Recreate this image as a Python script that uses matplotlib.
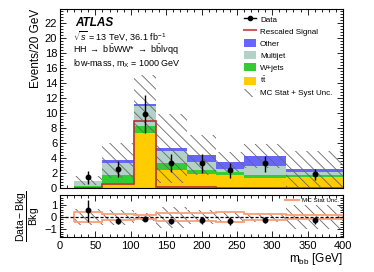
import numpy as np
import matplotlib
matplotlib.use("Agg")
import matplotlib.pyplot as plt
from matplotlib.ticker import MultipleLocator, AutoMinorLocator
from matplotlib.patches import Patch
from matplotlib.lines import Line2D

plt.rcParams['font.family'] = ['Liberation Sans', 'DejaVu Sans']
plt.rcParams['mathtext.fontset'] = 'custom'
plt.rcParams['mathtext.rm'] = 'Liberation Sans'
plt.rcParams['mathtext.it'] = 'Liberation Sans:italic'
plt.rcParams['mathtext.bf'] = 'Liberation Sans:bold'
plt.rcParams['hatch.linewidth'] = 0.6

# ---------------- data ----------------
edges = [20, 60, 105, 135, 180, 220, 260, 320, 400]
data = [1.5, 2.6, 9.9, 3.4, 3.4, 2.4, 3.3, 1.85]
data_err_up = [0.8, 1.0, 2.5, 1.2, 1.2, 1.0, 1.0, 0.75]
data_err_dn = [0.9, 1.15, 2.6, 1.2, 1.4, 1.1, 1.15, 0.75]
ttbar = [0.05, 0.67, 7.3, 2.4, 1.9, 1.8, 1.4, 1.5]
wjets = [0.25, 1.03, 1.0, 1.0, 0.5, 0.3, 0.3, 0.2]
multijet = [0.57, 1.6, 2.6, 1.6, 1.1, 0.5, 1.3, 0.45]
other = [0.08, 0.4, 0.35, 0.3, 0.9, 0.85, 1.3, 0.35]
signal = [0.05, 0.55, 9.0, 0.15, 0.1, 0.05, 0.05, 0.05]
syst_unc = [0.6, 2.3, 3.85, 4.6, 2.7, 1.35, 1.6, 2.5]
mcstat_rel = [0.4, 0.22, 0.2, 0.33, 0.35, 0.4, 0.22, 0.2]

labels = ['Other', 'Multijet', 'W+jets', r't$\bar{\mathrm{t}}$']
colors = {'ttbar': '#ffcc00', 'wjets': '#33cc33', 'multijet': '#b3d1c9', 'other': '#6666ff'}
sig_color = '#b8312a'
hatch_col = '#666666'
hatch = '\\\\\\'

edges_a = np.array(edges, float)
centers = 0.5 * (edges_a[:-1] + edges_a[1:])
comps = [np.array(ttbar), np.array(wjets), np.array(multijet), np.array(other)]
comp_cols = [colors['ttbar'], colors['wjets'], colors['multijet'], colors['other']]
total = np.sum(comps, axis=0)
unc = np.array(syst_unc)

# ---------------- figure ----------------
W, H = 374, 272
fig = plt.figure(figsize=(W / 100, H / 100), dpi=100)
ax = fig.add_axes([60 / W, 1 - 188 / H, 283 / W, 179 / H])
rx = fig.add_axes([60 / W, 1 - 237 / H, 283 / W, 41.7 / H])

# stack
base = np.zeros(len(total))
for v, c in zip(comps, comp_cols):
    ax.stairs(base + v, edges_a, baseline=base.copy(), fill=True, color=c, linewidth=0, zorder=2)
    base = base + v

# signal
ax.stairs(signal, edges_a, color=sig_color, linewidth=1.2, zorder=3)

# uncertainty hatch
ax.stairs(total + unc, edges_a, baseline=np.clip(total - unc, 0, None), fill=True,
          facecolor='none', edgecolor=hatch_col, linewidth=0, hatch=hatch, zorder=4)

# data
ax.errorbar(centers, data, yerr=[data_err_dn, data_err_up], fmt='o', color='black',
            markersize=3.2, elinewidth=1.0, capsize=0, zorder=5)

ax.set_xlim(0, 400)
ax.set_ylim(0, 23.9)
ax.yaxis.set_major_locator(MultipleLocator(2))
ax.yaxis.set_minor_locator(AutoMinorLocator(5))
ax.xaxis.set_major_locator(MultipleLocator(50))
ax.xaxis.set_minor_locator(AutoMinorLocator(5))
ax.tick_params(axis='both', which='both', direction='in', top=True, right=True, width=0.6,
               labelsize=8, pad=2)
ax.tick_params(which='major', length=4)
ax.tick_params(which='minor', length=2)
ax.tick_params(axis='x', labelbottom=False)
ax.set_ylabel('Events/20 GeV', fontsize=8.5, loc='top', labelpad=2)
for s in ax.spines.values():
    s.set_linewidth(0.8)

# texts
ax.text((75 - 60) / 283, (188 - 22.7) / 179, 'ATLAS', transform=ax.transAxes,
        fontsize=8.5, fontweight='bold', fontstyle='italic', va='center', ha='left')
ax.text((73 - 60) / 283, (188 - 36) / 179, r'$\sqrt{s}$ = 13 TeV, 36.1 fb$^{-1}$',
        transform=ax.transAxes, fontsize=6.5, va='center', ha='left')
ax.text((73 - 60) / 283, (188 - 50) / 179,
        r'HH $\rightarrow$ b$\bar{\mathrm{b}}$WW* $\rightarrow$ b$\bar{\mathrm{b}}$l$\nu$qq',
        transform=ax.transAxes, fontsize=6.5, va='center', ha='left')
ax.text((73 - 60) / 283, (188 - 62.7) / 179, r'low-mass, m$_{\mathrm{X}}$ = 1000 GeV',
        transform=ax.transAxes, fontsize=6.5, va='center', ha='left')

# legend
handles = [
    Line2D([0], [0], color='black', marker='o', markersize=3, linewidth=1.0),
    Line2D([0], [0], color='#c86060', linewidth=1.5),
    Patch(facecolor=colors['other'], edgecolor='none'),
    Patch(facecolor=colors['multijet'], edgecolor='none'),
    Patch(facecolor=colors['wjets'], edgecolor='none'),
    Patch(facecolor=colors['ttbar'], edgecolor='none'),
    Patch(facecolor='none', edgecolor=hatch_col, linewidth=0, hatch=hatch),
]
leg_labels = ['Data', 'Rescaled Signal'] + labels + ['MC Stat + Syst Unc.']
ax.legend(handles, leg_labels, loc='upper left', bbox_to_anchor=((244 - 60) / 283, (188 - 15) / 179),
          frameon=False, fontsize=5.8, handlelength=1.5, handleheight=1.1, labelspacing=0.42,
          handletextpad=0.5, borderpad=0, borderaxespad=0)

# ---------------- ratio ----------------
rel_syst = unc / total
ratio = (np.array(data) - total) / total
r_up = np.array(data_err_up) / total
r_dn = np.array(data_err_dn) / total
mcs = np.array(mcstat_rel)

rx.stairs(rel_syst, edges_a, baseline=-rel_syst, fill=True, facecolor='none',
          edgecolor=hatch_col, linewidth=0, hatch=hatch, zorder=2)
rx.stairs(mcs, edges_a, baseline=-mcs, fill=False, color='#f8a07a', linewidth=1.3, zorder=3)
rx.axhline(0, color='black', linestyle='--', linewidth=0.9, dashes=(2.5, 1.5), zorder=4)
rx.errorbar(centers, ratio, yerr=[r_dn, r_up], fmt='o', color='black', markersize=3.2,
            elinewidth=1.0, capsize=0, zorder=5)
rx.set_xlim(0, 400)
rx.set_ylim(-1.65, 1.8)
rx.yaxis.set_major_locator(MultipleLocator(1))
rx.yaxis.set_minor_locator(AutoMinorLocator(5))
rx.xaxis.set_major_locator(MultipleLocator(50))
rx.xaxis.set_minor_locator(AutoMinorLocator(5))
rx.tick_params(axis='both', which='both', direction='in', top=True, right=True, width=0.6,
               labelsize=8, pad=2)
rx.tick_params(which='major', length=4)
rx.tick_params(which='minor', length=2)
rx.tick_params(axis='x', pad=3)
for s in rx.spines.values():
    s.set_linewidth(0.8)
rx.set_xlabel(r'm$_{\mathrm{bb}}$ [GeV]', fontsize=8.5, loc='right', labelpad=0)
rx.set_ylabel(r'$\dfrac{\mathrm{Data-Bkg}}{\mathrm{Bkg}}$', fontsize=7.5, labelpad=2)
rx.legend([Line2D([0], [0], color='#f8a07a', linewidth=1.5)], ['MC Stat Unc.'],
          loc='upper right', bbox_to_anchor=(0.985, 0.95), frameon=False, fontsize=4.5,
          handlelength=2.2, handletextpad=0.4, borderpad=0, borderaxespad=0)

fig.savefig('out.png', dpi=100)
